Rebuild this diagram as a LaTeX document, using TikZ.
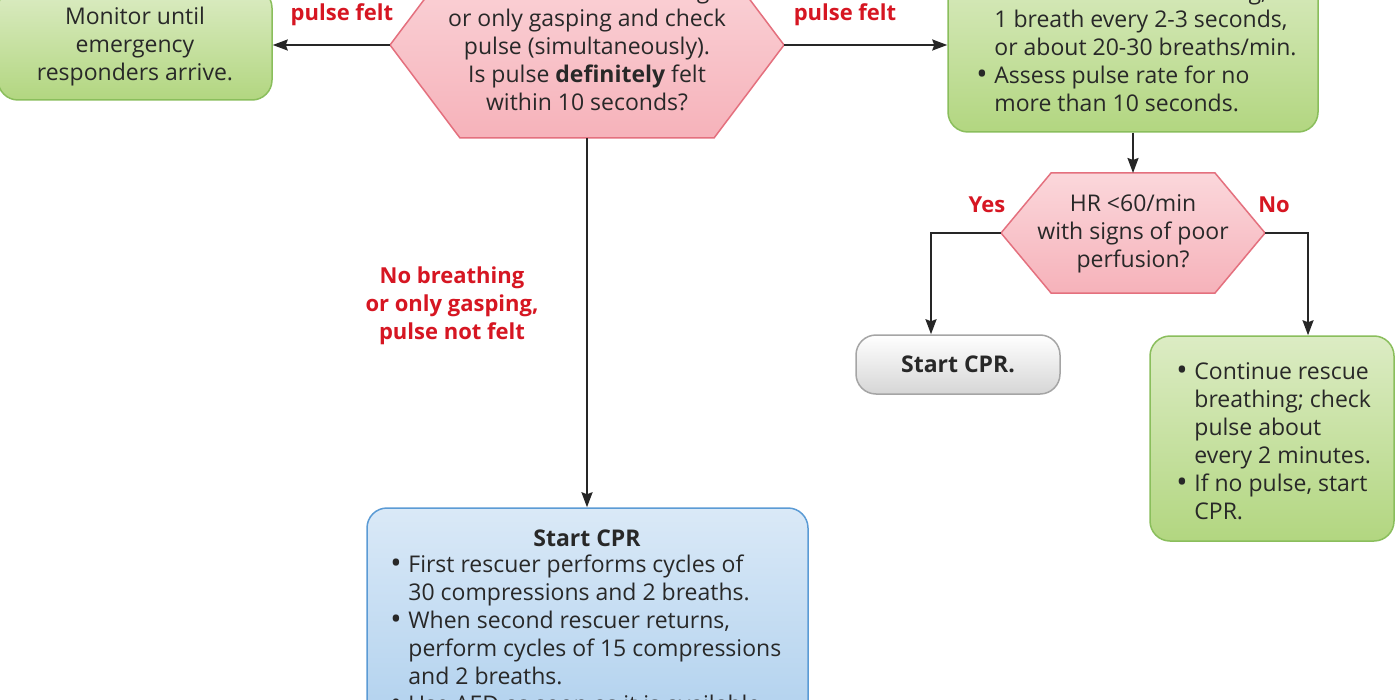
\documentclass[tikz,border=0pt]{standalone}
\usepackage{fontspec}
\setmainfont{Open Sans}
\usetikzlibrary{arrows.meta}
\definecolor{gtop}{RGB}{220,236,196}
\definecolor{gbot}{RGB}{178,214,128}
\definecolor{gborder}{RGB}{138,190,92}
\definecolor{rtopc}{RGB}{251,215,219}
\definecolor{rbotc}{RGB}{246,178,186}
\definecolor{rborder}{RGB}{228,112,126}
\definecolor{btop}{RGB}{218,233,247}
\definecolor{bbot}{RGB}{168,204,236}
\definecolor{bborder}{RGB}{91,155,213}
\definecolor{ytop}{RGB}{255,255,255}
\definecolor{ybot}{RGB}{214,214,214}
\definecolor{yborder}{RGB}{165,165,165}
\definecolor{lblred}{RGB}{214,22,34}
\definecolor{txtc}{RGB}{40,40,40}
\newcommand\bul{\makebox[9pt][l]{\raisebox{-0.6pt}{\fontsize{15}{14}\selectfont\textbullet}}}
\newcommand\ind{\hspace*{9pt}}
\begin{document}
\begin{tikzpicture}[x=0.5pt,y=-0.5pt,
  font=\fontsize{11.5}{14}\selectfont,
  box/.style={draw, line width=0.75pt, rounded corners=10pt, inner sep=0pt, text=txtc, align=center},
  greenbox/.style={box, draw=gborder, top color=gtop, bottom color=gbot},
  bluebox/.style={box, draw=bborder, top color=btop, bottom color=bbot},
  graybox/.style={box, draw=yborder, top color=ytop, bottom color=ybot},
  hexshape/.style={draw=rborder, line width=0.75pt, top color=rtopc, bottom color=rbotc},
  ctext/.style={inner sep=0pt, text=txtc, align=center},
  ltext/.style={inner sep=0pt, text=txtc, align=left, anchor=west},
  lbl/.style={inner sep=0pt, text=lblred, align=center, font=\fontsize{11}{14}\selectfont\bfseries},
  arr/.style={line width=1pt, draw=black!85, -{Stealth[length=7.5pt,width=5.5pt,inset=1pt]}}]
\useasboundingbox (0,0) rectangle (1400,700);
\clip (0,0) rectangle (1400,700);
\fill[white] (0,0) rectangle (1400,700);

% left green box
\node[greenbox, minimum width=137pt, minimum height=56pt] (monitor) at (135,44) {};
\node[ctext] (monitorT) at (135,47) {Monitor until\\emergency\\responders arrive.};

% main hexagon
\coordinate (hAW) at (390,45);
\coordinate (hANW) at (460,-48);
\coordinate (hANE) at (714,-48);
\coordinate (hAE) at (784,45);
\coordinate (hASE) at (714,138);
\coordinate (hASW) at (460,138);
\coordinate (hAS) at (587,138);
\path[hexshape] (hAW) -- (hANW) -- (hANE) -- (hAE) -- (hASE) -- (hASW) -- cycle;
\node[ctext] (hexA) at (587,46)
  {Check for no breathing\\or only gasping and check\\pulse (simultaneously).\\Is pulse \textbf{definitely} felt\\within 10 seconds?};

% right top green box
\node[greenbox, minimum width=185pt, minimum height=86pt] (rtop) at (1133,46) {};
\node[ltext] (rtopT) at (976,47)
  {\bul Provide rescue breathing,\\\ind 1 breath every 2-3 seconds,\\\ind or about 20-30 breaths/min.\\\bul Assess pulse rate for no\\\ind more than 10 seconds.};

% small hexagon
\coordinate (hBW) at (1001,233);
\coordinate (hBNW) at (1051,173);
\coordinate (hBNE) at (1215,173);
\coordinate (hBE) at (1265,233);
\coordinate (hBSE) at (1215,293);
\coordinate (hBSW) at (1051,293);
\coordinate (hBN) at (1133,173);
\path[hexshape] (hBW) -- (hBNW) -- (hBNE) -- (hBE) -- (hBSE) -- (hBSW) -- cycle;
\node[ctext] (hexB) at (1133,234) {HR <60/min\\with signs of poor\\perfusion?};

% gray start box
\node[graybox, minimum width=102pt, minimum height=29.5pt, font=\fontsize{11.5}{14}\selectfont\bfseries] (start) at (958,364.5) {Start CPR.};

% bottom right green box
\node[greenbox, minimum width=122pt, minimum height=102.5pt] (rbot) at (1272,438.5) {};
\node[ltext] (rbotT) at (1176,441)
  {\bul Continue rescue\\\ind breathing; check\\\ind pulse about\\\ind every 2 minutes.\\\bul If no pulse, start\\\ind CPR.};

% blue box
\node[bluebox, minimum width=220.5pt, minimum height=131pt] (cpr) at (587.5,639) {};
\node[ctext, font=\fontsize{11.5}{14}\selectfont\bfseries] (cprT) at (587,538) {Start CPR};
\node[ltext] (cprL) at (390,634)
  {\bul First rescuer performs cycles of\\\ind 30 compressions and 2 breaths.\\\bul When second rescuer returns,\\\ind perform cycles of 15 compressions\\\ind and 2 breaths.\\\bul Use AED as soon as it is available.};

% labels
\node[lbl] (lpf) at (342,15) {pulse felt};
\node[lbl] (rpf) at (845,15) {pulse felt};
\node[lbl] (npf) at (452,306) {No breathing\\or only gasping,\\pulse not felt};
\node[lbl] (yes) at (987,205) {Yes};
\node[lbl] (no) at (1274,205) {No};

% connectors
\coordinate (yesc) at (931,233);
\coordinate (noc) at (1308,233);
\draw[arr] (hAW) -- (hAW -| monitor.east);
\draw[arr] (hAE) -- (hAE -| rtop.west);
\draw[arr] (hAS) -- (hAS |- cpr.north);
\draw[arr] (rtop.south) -- (hBN);
\draw[arr] (hBW) -- (yesc) -- (yesc |- start.north);
\draw[arr] (hBE) -- (noc) -- (noc |- rbot.north);
\end{tikzpicture}
\end{document}
